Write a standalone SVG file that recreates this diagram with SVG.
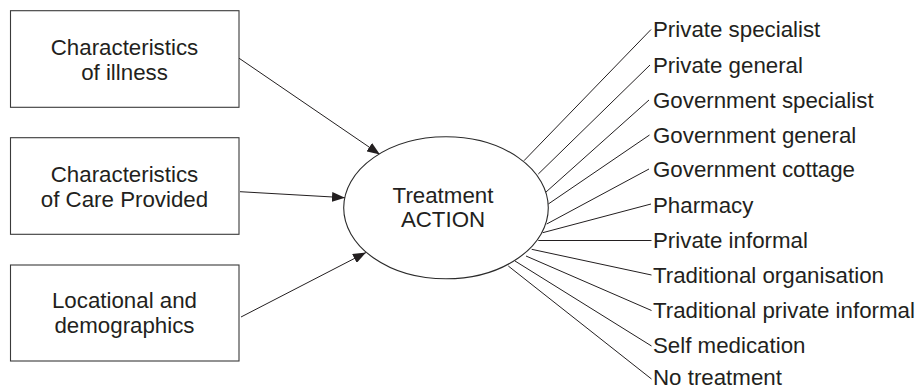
<svg xmlns="http://www.w3.org/2000/svg" width="921" height="390" viewBox="0 0 921 390">
<style>
.box{fill:#fff;stroke:#3a3a3a;stroke-width:1.1}
.ell{fill:#fff;stroke:#2a2a2a;stroke-width:1.1}
text{font-family:"Liberation Sans",Arial,sans-serif;font-size:22.3px;fill:#231f20}
.c{text-anchor:middle}
.ln{stroke:#231f20;stroke-width:1;fill:none}
.arr{stroke:#231f20;stroke-width:1;fill:none;marker-end:url(#ah)}
</style>
<defs>
<marker id="ah" viewBox="0 0 13 10" refX="13" refY="5" markerWidth="13" markerHeight="10" markerUnits="userSpaceOnUse" orient="auto">
<path d="M0,0 L13,5 L0,10 Z" fill="#231f20"/>
</marker>
</defs>
<rect width="921" height="390" fill="#fff"/>
<g id="connectors">
<line class="arr" x1="238" y1="57.5" x2="380" y2="154.5"/>
<line class="arr" x1="240" y1="191.7" x2="345" y2="197.7"/>
<line class="arr" x1="241" y1="317" x2="366" y2="252.5"/>
<line class="ln" x1="524" y1="160.7" x2="651" y2="29.5"/>
<line class="ln" x1="538.3" y1="174" x2="650" y2="65"/>
<line class="ln" x1="545.7" y1="192.3" x2="649" y2="100"/>
<line class="ln" x1="548.3" y1="204" x2="649.5" y2="135"/>
<line class="ln" x1="546.7" y1="224" x2="649" y2="169"/>
<line class="ln" x1="542.7" y1="232.7" x2="651" y2="204"/>
<line class="ln" x1="538.3" y1="240.5" x2="651.5" y2="240.5"/>
<line class="ln" x1="531.7" y1="249.3" x2="651.5" y2="275"/>
<line class="ln" x1="526" y1="256" x2="651.5" y2="310.5"/>
<line class="ln" x1="515" y1="261" x2="651.5" y2="346"/>
<line class="ln" x1="508.3" y1="266" x2="651.5" y2="379"/>
</g>
<g id="illness">
<rect class="box" x="10.5" y="10.7" width="228.5" height="96.6"/>
<text class="c" x="124.5" y="54.5">Characteristics</text>
<text class="c" x="124.5" y="79.8">of illness</text>
</g>
<g id="care">
<rect class="box" x="10.5" y="137.7" width="228.5" height="96.6"/>
<text class="c" x="124.5" y="181.7">Characteristics</text>
<text class="c" x="124.5" y="206.7">of Care Provided</text>
</g>
<g id="locational">
<rect class="box" x="10.5" y="265" width="228.5" height="96"/>
<text class="c" x="124.5" y="308.3">Locational and</text>
<text class="c" x="124.5" y="333.3">demographics</text>
</g>
<g id="treatment">
<ellipse class="ell" cx="446" cy="207.8" rx="102.3" ry="71"/>
<text class="c" x="443" y="203.2">Treatment</text>
<text class="c" x="443" y="227.3">ACTION</text>
</g>
<g id="outcomes">
<text x="653" y="37">Private specialist</text>
<text x="653" y="72.5">Private general</text>
<text x="653" y="107.5">Government specialist</text>
<text x="653" y="142.5">Government general</text>
<text x="653" y="177">Government cottage</text>
<text x="653" y="212.5">Pharmacy</text>
<text x="653" y="247.5">Private informal</text>
<text x="653" y="282.5">Traditional organisation</text>
<text x="653" y="318">Traditional private informal</text>
<text x="653" y="353">Self medication</text>
<text x="653" y="385.3">No treatment</text>
</g>
</svg>
